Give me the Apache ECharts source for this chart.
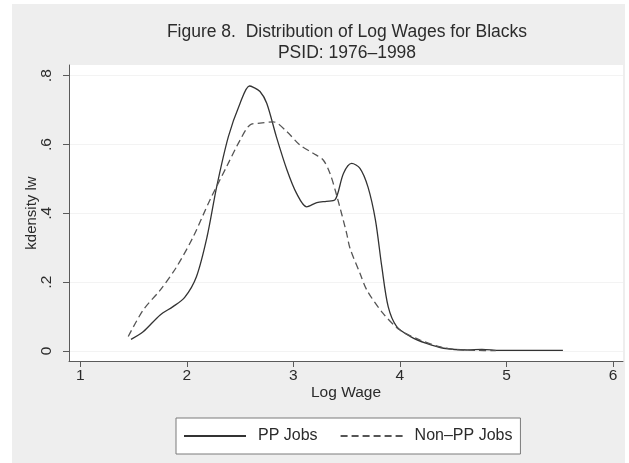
<!DOCTYPE html>
<html>
<head>
<meta charset="utf-8">
<script src="https://cdn.jsdelivr.net/npm/echarts@6/dist/echarts.min.js"></script>
<style>
  html, body { margin: 0; padding: 0; background: #ffffff; }
  #chart { width: 629px; height: 463px; }
</style>
</head>
<body>
<div id="chart"></div>
<script>
// Kernel density estimates of log wages, PP jobs vs non-PP jobs
const ppJobsX = [1.476, 1.59, 1.75, 1.87, 1.98, 2.09, 2.19, 2.28, 2.39, 2.50, 2.587, 2.625, 2.687, 2.75, 2.84, 2.94, 3.03, 3.125, 3.22, 3.31, 3.39, 3.47, 3.547, 3.625, 3.70, 3.77, 3.83, 3.89, 3.97, 4.10, 4.25, 4.41, 4.63, 4.77, 4.94, 5.25, 5.53];
const ppJobsY = [0.034, 0.056, 0.105, 0.129, 0.156, 0.216, 0.332, 0.477, 0.623, 0.720, 0.770, 0.766, 0.754, 0.720, 0.623, 0.526, 0.458, 0.419, 0.431, 0.435, 0.439, 0.516, 0.545, 0.531, 0.477, 0.381, 0.245, 0.129, 0.071, 0.042, 0.022, 0.008, 0.003, 0.005, 0.002, 0.002, 0.002];

const nonPpX = [1.45, 1.59, 1.75, 1.905, 2.06, 2.217, 2.374, 2.50, 2.593, 2.687, 2.81, 2.94, 3.06, 3.19, 3.28, 3.344, 3.41, 3.50, 3.53, 3.625, 3.69, 3.84, 4.00, 4.19, 4.38, 4.50, 4.70, 4.90];
const nonPpY = [0.042, 0.119, 0.177, 0.245, 0.332, 0.439, 0.536, 0.613, 0.657, 0.662, 0.666, 0.637, 0.599, 0.574, 0.555, 0.516, 0.448, 0.342, 0.300, 0.226, 0.177, 0.110, 0.061, 0.032, 0.012, 0.005, 0.002, 0.001];

const xTickValues = [1, 2, 3, 4, 5, 6];
const yTickValues = [0, 0.2, 0.4, 0.6, 0.8];
const yTickLabels = ['0', '.2', '.4', '.6', '.8'];

const seriesNames = ['PP Jobs', 'Non\u2013PP Jobs'];
const titleLines = ['Figure 8.  Distribution of Log Wages for Blacks', 'PSID: 1976\u20131998'];

const FONT = '"Liberation Sans", Arial, Helvetica, sans-serif';
const TEXT = '#2b2b2b';
const AXIS = '#5a5a5a';

const zip = (xs, ys) => xs.map((x, i) => [x, ys[i]]);

const chart = echarts.init(document.getElementById('chart'), null, { renderer: 'canvas' });

chart.setOption({
  backgroundColor: '#ffffff',
  animation: false,
  graphic: [{
    type: 'rect',
    z: -10,
    silent: true,
    shape: { x: 12, y: 4, width: 613, height: 459 },
    style: { fill: '#eeeeee' }
  }],
  title: {
    text: titleLines.join('\n'),
    left: 347,
    top: 22,
    padding: 0,
    textAlign: 'center',
    textStyle: { fontFamily: FONT, fontSize: 17.5, fontWeight: 'normal', color: TEXT, lineHeight: 21 }
  },
  grid: {
    left: 69, right: 6, top: 65, bottom: 102,
    show: true, backgroundColor: '#ffffff', borderWidth: 0
  },
  legend: {
    data: seriesNames,
    left: 176, top: 418,
    padding: [10, 8, 10, 7],
    backgroundColor: '#ffffff',
    borderColor: '#7a7a7a',
    borderWidth: 1,
    itemWidth: 62, itemHeight: 12,
    itemGap: 22,
    itemStyle: { opacity: 0 },
    textStyle: { fontFamily: FONT, fontSize: 16, color: TEXT, padding: [0, 0, 0, 7] }
  },
  xAxis: {
    type: 'value',
    min: 0.894, max: 6.094,
    name: 'Log Wage',
    nameLocation: 'middle',
    nameGap: 24,
    nameMoveOverlap: false,
    nameTextStyle: { fontFamily: FONT, fontSize: 15.5, color: TEXT },
    axisLine: { show: true, onZero: false, lineStyle: { color: AXIS, width: 1 } },
    axisTick: { show: true, length: 6, customValues: xTickValues, lineStyle: { color: AXIS } },
    axisLabel: { customValues: xTickValues, margin: 7, fontFamily: FONT, fontSize: 15.5, color: TEXT },
    splitLine: { show: false }
  },
  yAxis: {
    type: 'value',
    min: -0.029, max: 0.831,
    name: 'kdensity lw',
    nameLocation: 'middle',
    nameGap: 30,
    nameMoveOverlap: false,
    nameTextStyle: { fontFamily: FONT, fontSize: 15, color: TEXT },
    axisLine: { show: true, onZero: false, lineStyle: { color: AXIS, width: 1 } },
    axisTick: { show: true, length: 6, customValues: yTickValues, lineStyle: { color: AXIS } },
    axisLabel: {
      customValues: yTickValues,
      rotate: 90,
      margin: 14,
      fontFamily: FONT, fontSize: 15.5, color: TEXT,
      formatter: v => {
        const i = yTickValues.findIndex(t => Math.abs(t - v) < 1e-6);
        return i >= 0 ? yTickLabels[i] : '';
      }
    },
    splitLine: { show: true, lineStyle: { color: '#f3f3f3', width: 1 } }
  },
  series: [
    {
      name: seriesNames[0],
      type: 'line',
      data: zip(ppJobsX, ppJobsY),
      symbol: 'none',
      smooth: 0.3,
      lineStyle: { color: '#333333', width: 1.3, type: 'solid' },
      itemStyle: { color: '#333333' }
    },
    {
      name: seriesNames[1],
      type: 'line',
      data: zip(nonPpX, nonPpY),
      symbol: 'none',
      smooth: 0.3,
      lineStyle: { color: '#555555', width: 1.3, type: [7, 4] },
      itemStyle: { color: '#555555' }
    }
  ]
});
</script>
</body>
</html>
